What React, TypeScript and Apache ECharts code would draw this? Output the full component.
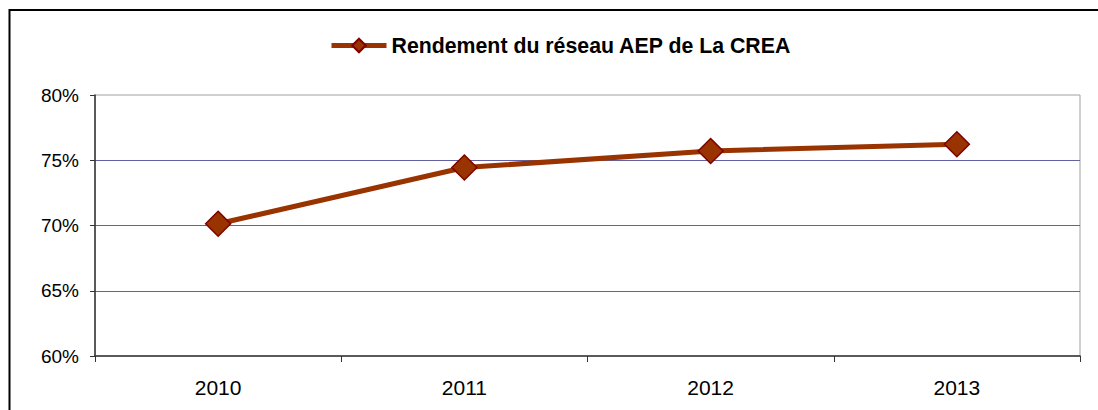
import React, { useEffect, useRef } from "react";
import * as echarts from "echarts";

const categories = ["2010", "2011", "2012", "2013"];
const rendement = [70.13, 74.44, 75.71, 76.23];
const seriesName = "Rendement du réseau AEP de La CREA";
const yMin = 60;
const yMax = 80;
const yStep = 5;

const FONT = 'Arial, "Liberation Sans", sans-serif';

export default function App() {
  const ref = useRef<HTMLDivElement>(null);
  useEffect(() => {
    if (!ref.current) return;
    const chart = echarts.init(ref.current, undefined, { renderer: "svg" });
    chart.setOption({
      animation: false,
      backgroundColor: "#ffffff",
      grid: {
        left: 95,
        top: 95,
        right: 18,
        bottom: 54,
        show: true,
        borderColor: "#a0a0a0",
        borderWidth: 1,
        backgroundColor: "transparent",
      },
      legend: {
        data: [seriesName],
        left: 329,
        top: 35,
        padding: 0,
        itemWidth: 55,
        itemHeight: 17,
        lineStyle: { width: 5 },
        textStyle: { fontFamily: FONT, fontSize: 21.3, fontWeight: "bold", color: "#000" },
      },
      graphic: [
        {
          type: "rect",
          shape: { x: 9.5, y: 10, width: 1200, height: 600 },
          style: { fill: "none", stroke: "#000", lineWidth: 2 },
          silent: true,
        },
      ],
      xAxis: {
        type: "category",
        data: categories,
        boundaryGap: true,
        axisLine: { lineStyle: { color: "#333", width: 1.5 } },
        axisTick: { show: true, length: 6, lineStyle: { color: "#333" } },
        axisLabel: { fontFamily: FONT, fontSize: 21, color: "#000", margin: 21 },
        splitLine: { show: false },
      },
      yAxis: {
        type: "value",
        min: yMin,
        max: yMax,
        interval: yStep,
        axisLine: { show: true, lineStyle: { color: "#333", width: 1.5 } },
        axisTick: { show: true, length: 5, lineStyle: { color: "#333" } },
        axisLabel: {
          fontFamily: FONT,
          fontSize: 19,
          color: "#000",
          margin: 16,
          formatter: "{value}%",
        },
        splitLine: {
          show: true,
          showMinLine: false,
          showMaxLine: false,
          lineStyle: { color: "#6262a2", width: 1 },
        },
      },
      series: [
        {
          name: seriesName,
          type: "line",
          data: rendement,
          symbol: "diamond",
          symbolSize: 25,
          lineStyle: { color: "#993300", width: 5 },
          itemStyle: { color: "#993300", borderColor: "#800000", borderWidth: 1.5 },
        },
      ],
    });
    return () => chart.dispose();
  }, []);
  return (
    <div
      ref={ref}
      style={{ position: "absolute", left: 0, top: 0, width: 1098, height: 410 }}
    />
  );
}
